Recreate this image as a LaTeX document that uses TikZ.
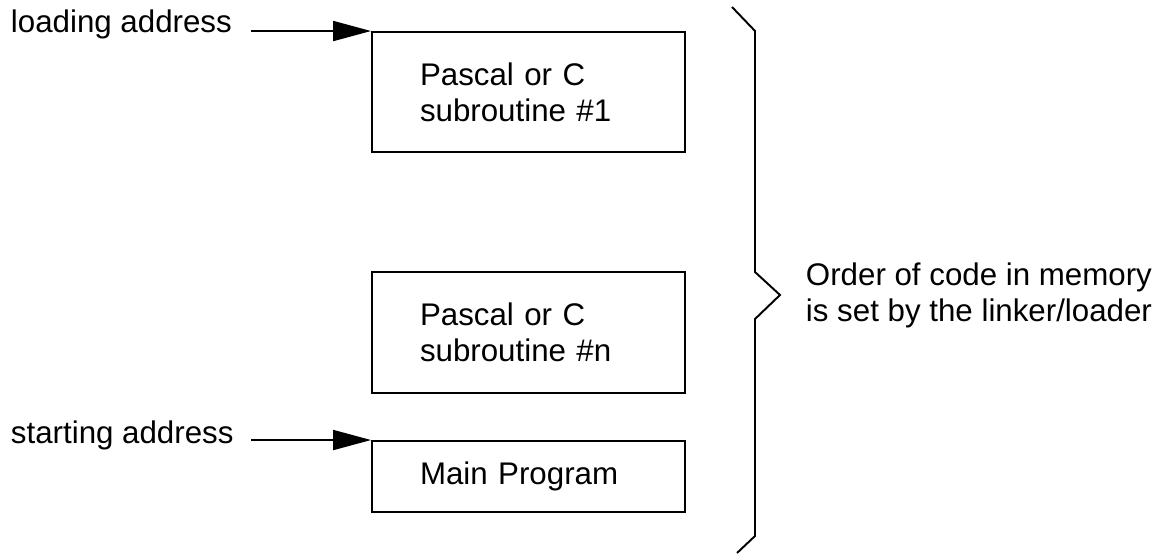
\documentclass[tikz,border=0pt]{standalone}
\usepackage{fontspec}
\setmainfont{Liberation Sans}
\usetikzlibrary{arrows.meta,positioning}

\begin{document}
\begin{tikzpicture}[
    line width=1.1pt,
    font=\fontsize{17.8}{20.5}\selectfont,
    block/.style={draw, rectangle, align=left, text width=4.34cm, inner xsep=0.96cm, inner ysep=0pt},
    tag/.style={inner sep=0pt, anchor=base west},
    feed/.style={-{Triangle[length=0.76cm, width=0.4cm]}}
]
    \useasboundingbox (0,0) rectangle (23.16,11.08);

    % memory blocks
    \node[block, minimum height=2.40cm] (B1) at (10.57,9.24) {Pascal or C\\subroutine \#1};
    \node[block, minimum height=2.42cm] (B2) at (10.57,4.43) {Pascal or C\\subroutine \#n};
    \node[block, minimum height=1.42cm] (B3) at (10.57,1.55) {Main Program};

    % entry points
    \node[tag] (load) at (0.20,10.42) {loading address};
    \node[tag] (start) at (0.20,2.22) {starting address};
    \coordinate (loadtail) at ([xshift=-2.4cm]B1.north west);
    \coordinate (starttail) at ([xshift=-2.4cm]B3.north west);

    \draw[feed] (loadtail) -- (B1.north west);
    \draw[feed] (starttail) -- (B3.north west);

    % brace over the whole layout
    \coordinate (tip) at (15.60,5.18);
    \draw[line join=miter] (14.64,10.94) -- (15.10,10.46) -- (15.10,5.64) -- (tip)
        -- (15.10,4.70) -- (15.10,0.36) -- (14.74,0.02);
    \node[right=0.5cm of tip, align=left, inner sep=0pt] (note)
        {Order of code in memory\\is set by the linker/loader};
\end{tikzpicture}
\end{document}
